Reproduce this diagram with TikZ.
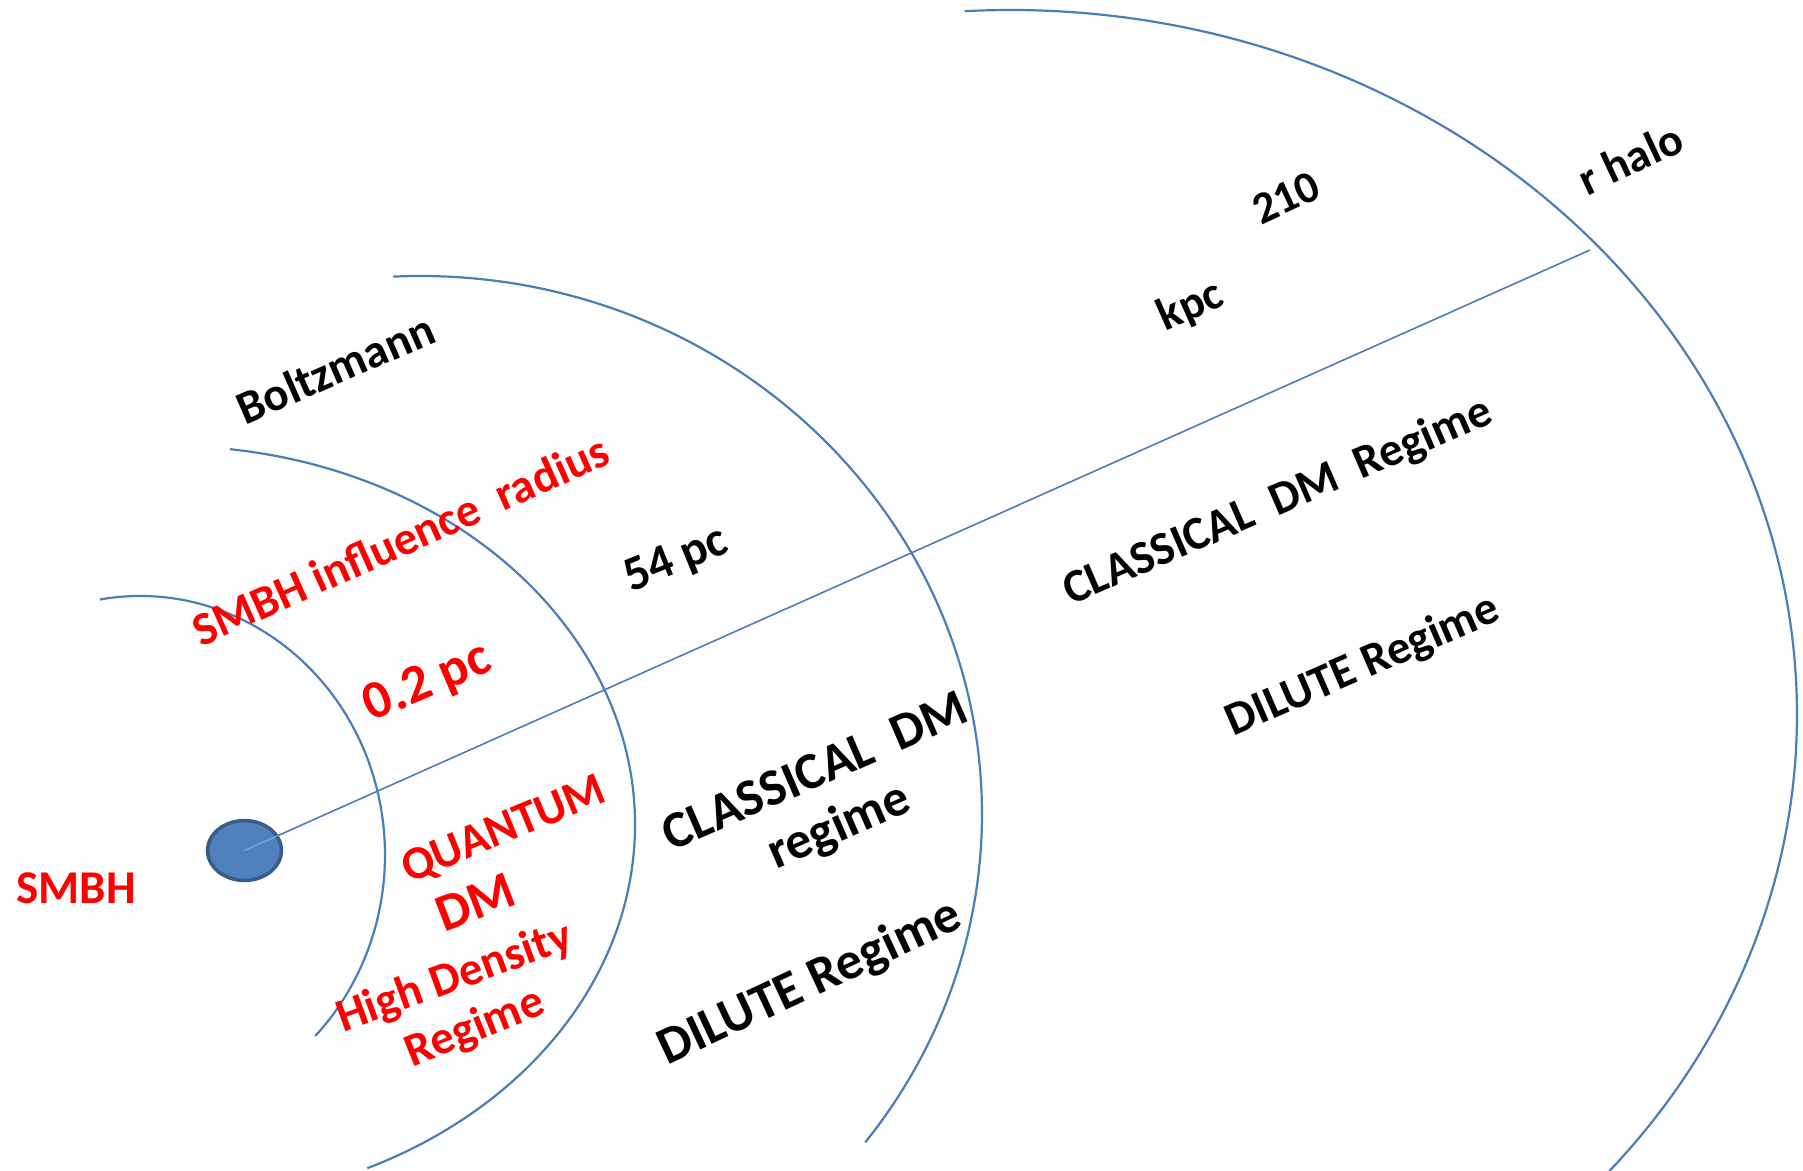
\documentclass[tikz,border=0pt]{standalone}
\usepackage{fontspec}
\setmainfont{Carlito}
\usetikzlibrary{shapes.geometric}
\definecolor{arcblue}{HTML}{4A7EBB}
\definecolor{smbhfill}{HTML}{4F81BD}
\definecolor{smbhdraw}{HTML}{385D8A}
\begin{document}
\begin{tikzpicture}[x=0.5pt,y=-0.5pt,
  arcline/.style={draw=arcblue, line width=1.1pt},
  radline/.style={draw=arcblue, line width=0.8pt},
  lbl/.style={anchor=base, inner sep=0pt, font=\bfseries\fontsize{23.5pt}{28pt}\selectfont},
  biglbl/.style={anchor=base, inner sep=0pt, font=\bfseries\fontsize{26pt}{29.5pt}\selectfont},
  redlbl/.style={lbl, text=red},
]
\useasboundingbox (0,0) rectangle (1803,1171);

% shells
\draw[arcline] (140,855) ++(99.4:122.5pt and 129.5pt)
  arc[start angle=99.4, end angle=-44.3, x radius=122.5pt, y radius=129.5pt];
\draw[arcline] (170,825) ++(82.6:232.5pt and 189.5pt)
  arc[start angle=82.6, end angle=-64.9, x radius=232.5pt, y radius=189.5pt];
\draw[arcline] (420,814) ++(92.75:281pt and 269pt)
  arc[start angle=92.75, end angle=-37.6, x radius=281pt, y radius=269pt];
\draw[arcline] (1010,714.5) ++(93.3:393.5pt and 352.25pt)
  arc[start angle=93.3, end angle=-40.4, x radius=393.5pt, y radius=352.25pt];

% SMBH and radius line
\node[ellipse, draw=smbhdraw, fill=smbhfill, line width=1.8pt, inner sep=0pt,
      minimum width=36.9pt, minimum height=29.9pt] (smbh) at (244.5,850.5) {};
\coordinate (lineend) at (1590,250);
\draw[radline] (smbh) -- (lineend) coordinate[pos=0] (lstart);
\draw[radline, draw=white, draw opacity=0.25] (smbh.center) -- (lstart);

% labels
\node[redlbl] (smbhlbl) at (76,903) {SMBH};
\node[lbl, rotate=23.6] (boltz) at (342,383) {Boltzmann};
\node[redlbl, rotate=24.1] (infl) at (407,555) {SMBH influence\ \ radius};
\node[redlbl, rotate=23, font=\bfseries\fontsize{27pt}{30pt}\selectfont] (r02) at (433,696) {0.2 pc};
\node[lbl, rotate=22, font=\bfseries\fontsize{24.5pt}{28pt}\selectfont] (r54) at (681,572) {54 pc};
\node[lbl, rotate=25, font=\bfseries\fontsize{22.5pt}{28pt}\selectfont] (r210) at (1292,211) {210};
\node[lbl, rotate=24, font=\bfseries\fontsize{23pt}{28pt}\selectfont] (kpc) at (1196,318) {kpc};
\node[lbl, rotate=25, font=\bfseries\fontsize{23pt}{28pt}\selectfont] (rhalo) at (1637,173) {r halo};

\node[redlbl, rotate=22.5] (quant) at (509,842) {QUANTUM};
\node[redlbl, rotate=21, font=\bfseries\fontsize{26.5pt}{30pt}\selectfont] (qdm) at (482,918) {DM};
\node[redlbl, rotate=20] (hd) at (459,990) {High Density};
\node[redlbl, rotate=22] (hdreg) at (480,1040) {Regime};

\node[biglbl, rotate=23.5, align=center] (cdm1) at (845,840) {CLASSICAL\ \ DM\\regime};
\node[biglbl, rotate=25, font=\bfseries\fontsize{26.3pt}{30pt}\selectfont] (dil1) at (816,996) {DILUTE Regime};

\node[lbl, rotate=23.4] (cdm2) at (1283,514) {CLASSICAL\ \ DM\ \ Regime};
\node[lbl, rotate=23.5] (dil2) at (1368,678) {DILUTE Regime};
\end{tikzpicture}
\end{document}
